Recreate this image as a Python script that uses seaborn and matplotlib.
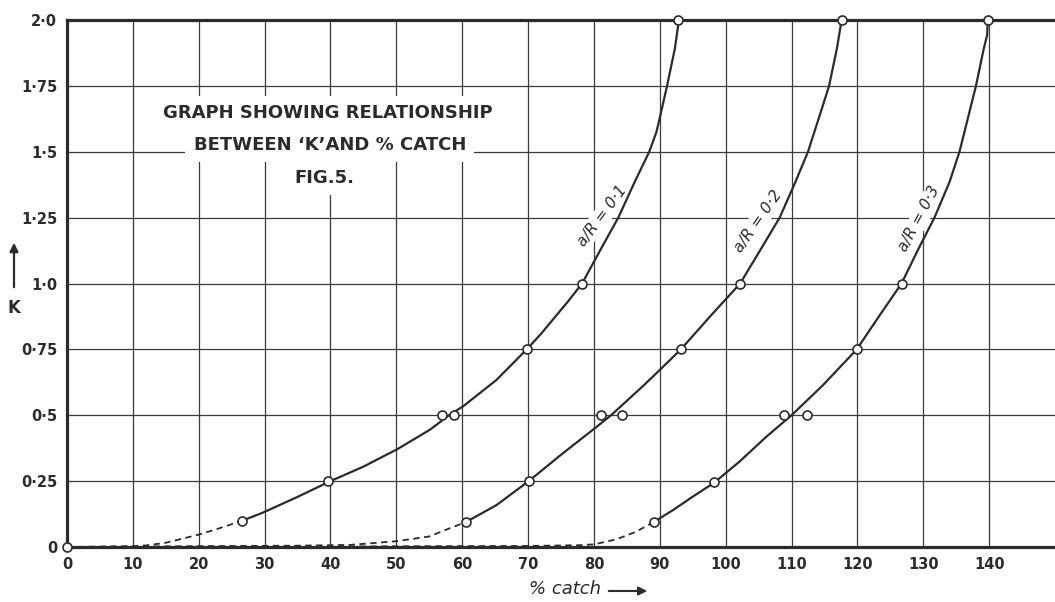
import matplotlib
matplotlib.use("Agg")
import matplotlib.pyplot as plt
import matplotlib.patches as mpatches
import seaborn as sns
import pandas as pd

# ---------------- data ----------------
x_ticks = [0, 10, 20, 30, 40, 50, 60, 70, 80, 90, 100, 110, 120, 130, 140]
y_ticks = [0, 0.25, 0.5, 0.75, 1.0, 1.25, 1.5, 1.75, 2.0]
y_tick_labels = ["0", "0·25", "0·5", "0·75", "1·0", "1·25", "1·5", "1·75", "2·0"]

# a/R = 0.1
c1_solid_x = [26.6, 29.7, 34.9, 40.0, 45.0, 50.2, 55.1, 58.0, 60.2, 65.2, 69.8, 72.0, 74.0, 76.0,
              78.2, 81.1, 83.7, 86.2, 88.4, 89.5, 90.1, 91.1, 92.3, 92.9]
c1_solid_k = [0.10, 0.13, 0.189, 0.25, 0.305, 0.372, 0.445, 0.50, 0.535, 0.634, 0.75, 0.81, 0.87, 0.93,
              1.0, 1.133, 1.25, 1.386, 1.5, 1.576, 1.64, 1.75, 1.893, 2.0]
c1_dash_x = [0, 10, 12, 15, 20, 23, 26.6]
c1_dash_k = [0, 0.003, 0.006, 0.016, 0.047, 0.07, 0.10]
c1_pts_x = [26.6, 39.7, 56.9, 58.8, 69.8, 78.2, 92.8]
c1_pts_k = [0.10, 0.25, 0.5, 0.5, 0.75, 1.0, 2.0]

# a/R = 0.2
c2_solid_x = [60.6, 65.2, 70.1, 75.1, 80.0, 82.6, 87.5, 90.0, 93.2, 97.6, 102.2, 105.4, 108.2,
              110.6, 112.5, 114.3, 115.7, 116.9, 117.6]
c2_solid_k = [0.095, 0.159, 0.25, 0.352, 0.448, 0.50, 0.612, 0.672, 0.75, 0.874, 1.0, 1.133, 1.25,
              1.386, 1.5, 1.64, 1.75, 1.893, 2.0]
c2_dash_x = [0, 20, 35, 43, 50, 55, 58, 60.6]
c2_dash_k = [0, 0.003, 0.005, 0.008, 0.022, 0.04, 0.07, 0.095]
c2_pts_x = [60.6, 70.2, 81.0, 84.3, 93.2, 102.2, 117.6]
c2_pts_k = [0.095, 0.25, 0.5, 0.5, 0.75, 1.0, 2.0]

# a/R = 0.3
c3_solid_x = [89.1, 92.0, 95.0, 98.3, 102.1, 106.2, 110.0, 114.8, 119.9, 123.4, 126.7, 129.3,
              131.7, 134.0, 135.5, 136.9, 138.0, 139.2, 139.7, 139.8]
c3_solid_k = [0.095, 0.14, 0.191, 0.245, 0.324, 0.419, 0.50, 0.615, 0.75, 0.88, 1.0, 1.133,
              1.25, 1.386, 1.5, 1.64, 1.75, 1.893, 1.943, 2.0]
c3_dash_x = [0, 40, 70, 78, 80, 83.4, 86.4, 89.1]
c3_dash_k = [0, 0.002, 0.004, 0.007, 0.01, 0.029, 0.058, 0.095]
c3_pts_x = [89.1, 98.3, 108.8, 112.3, 119.9, 126.7, 139.8]
c3_pts_k = [0.095, 0.245, 0.5, 0.5, 0.75, 1.0, 2.0]

origin_x = [0]
origin_k = [0]

curve_labels = ["a/R = 0·1", "a/R = 0·2", "a/R = 0·3"]
label_x = [81.2, 104.9, 129.4]
label_k = [1.255, 1.235, 1.245]
label_rot = [53, 55, 62]

title_lines = ["GRAPH SHOWING RELATIONSHIP", "BETWEEN \u2018K\u2019AND % CATCH", "FIG.5."]

# ---------------- drawing ----------------
sns.set_theme(style="white")
plt.rcParams["font.family"] = ["DejaVu Sans"]
INK = "#2b2b2b"

fig = plt.figure(figsize=(10.55, 6.02), dpi=100)
fig.patch.set_facecolor("white")
ax = fig.add_axes([67 / 1055, 55 / 602, 988 / 1055, 527 / 602])
ax.set_facecolor("white")


def seg(xs, ks, dashed=False):
    df = pd.DataFrame({"x": xs, "K": ks})
    sns.lineplot(data=df, x="x", y="K", ax=ax, sort=False, estimator=None,
                 color=INK, lw=1.3 if dashed else 1.6,
                 linestyle=(0, (3.5, 2.5)) if dashed else "-", zorder=3,
                 solid_joinstyle="round")


for sx, sk, dx, dk in [(c1_solid_x, c1_solid_k, c1_dash_x, c1_dash_k),
                       (c2_solid_x, c2_solid_k, c2_dash_x, c2_dash_k),
                       (c3_solid_x, c3_solid_k, c3_dash_x, c3_dash_k)]:
    seg(sx, sk)
    seg(dx, dk, dashed=True)

pts = pd.DataFrame({"x": c1_pts_x + c2_pts_x + c3_pts_x + origin_x,
                    "K": c1_pts_k + c2_pts_k + c3_pts_k + origin_k})
sns.scatterplot(data=pts, x="x", y="K", ax=ax, marker="o", s=42,
                color="white", edgecolor=INK, linewidth=1.2, zorder=6, clip_on=False)

ax.set_xlim(0, 150)
ax.set_ylim(0, 2.0)
ax.set_xticks(x_ticks)
ax.set_xticklabels([str(v) for v in x_ticks])
ax.set_yticks(y_ticks)
ax.set_yticklabels(y_tick_labels)
ax.tick_params(axis="both", length=0, labelsize=10.5, labelcolor=INK)
ax.tick_params(axis="x", pad=7)
ax.tick_params(axis="y", pad=7)
for lab in ax.get_xticklabels() + ax.get_yticklabels():
    lab.set_fontweight("bold")
ax.set_xlabel("")
ax.set_ylabel("")

ax.grid(True, color="#3a3a3a", lw=0.9, zorder=1)
ax.set_axisbelow(True)

for side in ["left", "bottom", "top"]:
    ax.spines[side].set_visible(True)
    ax.spines[side].set_color(INK)
    ax.spines[side].set_linewidth(2.3)
ax.spines["right"].set_visible(False)

# title block
title_pos = [(39.6, 1.647), (39.9, 1.526), (39.0, 1.40)]
for txt, (tx, ty) in zip(title_lines, title_pos):
    ax.text(tx, ty, txt, ha="center", va="center", fontsize=13, fontweight="bold",
            color=INK, zorder=4,
            bbox=dict(boxstyle="square,pad=0.45", fc="white", ec="none"))

# curve labels (below the curves, above the grid)
for txt, lx, lk, rot in zip(curve_labels, label_x, label_k, label_rot):
    ax.text(lx, lk, txt, ha="center", va="center", rotation=rot, fontsize=11,
            fontstyle="italic", color=INK, zorder=2.5,
            bbox=dict(boxstyle="square,pad=0.12", fc="white", ec="none"))

# axis labels
fig.text(14 / 1055, 1 - 308 / 602, "K", ha="center", va="center", fontsize=12,
         fontweight="bold", color=INK)
fig.add_artist(mpatches.FancyArrowPatch(
    (14 / 1055, 1 - 290 / 602), (14 / 1055, 1 - 240 / 602),
    transform=fig.transFigure, arrowstyle="-|>,head_length=5,head_width=2.5",
    lw=1.6, color=INK))
fig.text(565 / 1055, 1 - 589 / 602, "% catch", ha="center", va="center", fontsize=13,
         fontstyle="italic", color=INK)
fig.add_artist(mpatches.FancyArrowPatch(
    (606 / 1055, 1 - 591 / 602), (650 / 1055, 1 - 591 / 602),
    transform=fig.transFigure, arrowstyle="-|>,head_length=5,head_width=2.5",
    lw=1.5, color=INK))

fig.savefig("out.png", dpi=100, facecolor="white")
